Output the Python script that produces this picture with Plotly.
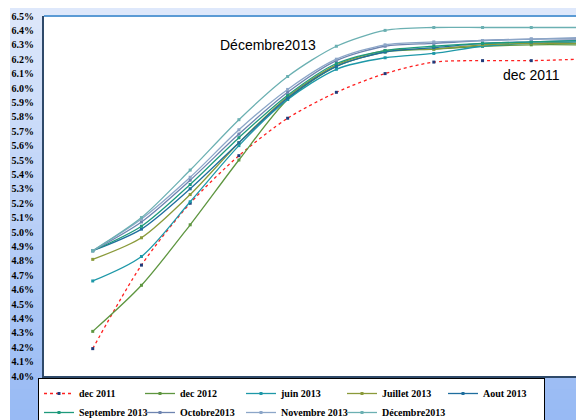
import plotly.graph_objects as go

x_positions = [1, 2, 3, 4, 5, 6, 7, 8, 9, 10, 11]
tick_vals = [0, 1, 2, 3, 4, 5, 6, 7, 8, 9, 10, 11]
tick_text = ["0", "1", "2", "3", "4", "5", "6", "7", "8", "9", "10", "11"]
y_ticks = [round(4.0 + 0.1 * i, 1) for i in range(26)]

series_names = ["dec 2011", "dec 2012", "juin 2013", "Juillet 2013", "Aout 2013",
                "Septembre 2013", "Octobre2013", "Novembre 2013", "Décembre2013"]

dec_2011 = [4.19, 4.77, 5.20, 5.53, 5.79, 5.97, 6.10, 6.18, 6.19, 6.19, 6.20]
dec_2012 = [4.31, 4.63, 5.05, 5.50, 5.92, 6.15, 6.25, 6.27, 6.29, 6.30, 6.30]
juin_2013 = [4.66, 4.83, 5.21, 5.60, 5.92, 6.13, 6.21, 6.24, 6.29, 6.31, 6.32]
juillet_2013 = [4.81, 4.96, 5.26, 5.62, 5.94, 6.16, 6.26, 6.27, 6.30, 6.31, 6.31]
aout_2013 = [4.87, 5.02, 5.30, 5.62, 5.93, 6.15, 6.25, 6.28, 6.31, 6.32, 6.33]
sept_2013 = [4.87, 5.04, 5.33, 5.655, 5.95, 6.17, 6.26, 6.29, 6.31, 6.32, 6.33]
oct_2013 = [4.87, 5.07, 5.36, 5.68, 5.97, 6.19, 6.29, 6.31, 6.33, 6.34, 6.34]
nov_2013 = [4.87, 5.09, 5.38, 5.71, 5.99, 6.20, 6.30, 6.32, 6.33, 6.34, 6.35]
dec_2013 = [4.87, 5.10, 5.43, 5.78, 6.08, 6.29, 6.40, 6.42, 6.42, 6.42, 6.42]

all_values = [dec_2011, dec_2012, juin_2013, juillet_2013, aout_2013,
              sept_2013, oct_2013, nov_2013, dec_2013]
line_colors = ["#FF2020", "#5E9640", "#1E98A8", "#8A9A3A", "#1F6E9E",
               "#1E9A7C", "#6E84B0", "#8CA6C8", "#6BB0B2"]
marker_colors = ["#1F3A7A", "#5E9640", "#1E98A8", "#8A9A3A", "#1F6E9E",
                 "#1E9A7C", "#6E84B0", "#8CA6C8", "#6BB0B2"]
dashes = ["dot", "solid", "solid", "solid", "solid", "solid", "solid", "solid", "solid"]

fig = go.Figure()
for name, vals, lc, mc, d in zip(series_names, all_values, line_colors, marker_colors, dashes):
    fig.add_trace(go.Scatter(
        x=x_positions, y=vals, name=name, mode="lines+markers",
        line=dict(color=lc, width=1.3, dash=d, shape="spline", smoothing=0.8),
        marker=dict(symbol="square", size=3, color=mc),
    ))

# figure is 576x412 (page body offset of 8px); plot area 536x360
PW, PH = 536.0, 360.0
shapes = []
n = 40
y_top, y_bot = 1.0 + 8 / PH, -44 / PH
c_top = (222, 232, 251)
c_bot = (152, 186, 244)
for i in range(n):
    t = i / (n - 1)
    c = tuple(int(c_top[k] + (c_bot[k] - c_top[k]) * t) for k in range(3))
    y0 = y_top - (y_top - y_bot) * i / n
    y1 = y_top - (y_top - y_bot) * (i + 1) / n
    shapes.append(dict(type="rect", xref="paper", yref="paper",
                       x0=-34 / PW, x1=1 + 4 / PW, y0=y1 - 0.002, y1=y0,
                       fillcolor="rgb(%d,%d,%d)" % c, line=dict(width=0), layer="below"))
shapes.append(dict(type="rect", xref="paper", yref="paper", x0=0, x1=1, y0=0, y1=1,
                   fillcolor="white", line=dict(width=0), layer="below"))
shapes.append(dict(type="line", xref="paper", yref="paper", x0=0, x1=1, y0=1, y1=1,
                   line=dict(color="#5B9BD5", width=2)))
shapes.append(dict(type="line", xref="paper", yref="paper", x0=1, x1=1, y0=0, y1=1,
                   line=dict(color="#5B9BD5", width=2)))

fig.update_layout(
    width=576, height=412,
    margin=dict(l=36, r=4, t=8, b=44, autoexpand=False),
    paper_bgcolor="white",
    plot_bgcolor="white",
    shapes=shapes,
    showlegend=True,
    legend=dict(
        orientation="h", x=-6 / PW, xanchor="left", y=-2 / PH, yanchor="top",
        bgcolor="white", bordercolor="black", borderwidth=1,
        font=dict(family="Liberation Serif", size=10, color="black", weight="bold"),
        itemwidth=30, entrywidth=56, tracegroupgap=0, traceorder="normal",
    ),
    annotations=[
        dict(x=4.6, y=6.30, xref="x", yref="y", text="Décembre2013", showarrow=False,
             font=dict(family="Liberation Sans", size=14, color="black")),
        dict(x=10.0, y=6.09, xref="x", yref="y", text="dec 2011", showarrow=False,
             font=dict(family="Liberation Sans", size=14, color="black")),
    ],
)
fig.update_xaxes(range=[0, 11], tickvals=tick_vals, ticktext=tick_text,
                 tickfont=dict(size=3, color="#333333"), showgrid=False, zeroline=False,
                 showline=True, linecolor="#2F4A6A", linewidth=2, ticks="")
fig.update_yaxes(range=[4.0, 6.5], tickvals=y_ticks,
                 ticktext=["%.1f%%" % v for v in y_ticks],
                 tickfont=dict(family="Liberation Serif", size=10, color="black", weight="bold"),
                 showgrid=False, zeroline=False, showline=True, linecolor="#2F4A6A",
                 linewidth=2, ticks="", ticklabelstandoff=6)

fig.write_html("out.html")
